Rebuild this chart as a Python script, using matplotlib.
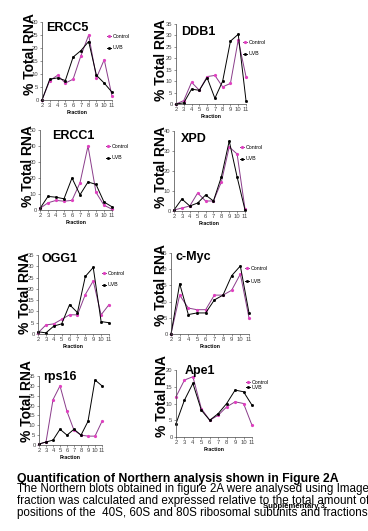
import numpy as np
import matplotlib
matplotlib.use("Agg")
import matplotlib.pyplot as plt

plt.rcParams['font.family'] = ['Liberation Sans', 'DejaVu Sans']

W, H = 368, 531

fractions = [2, 3, 4, 5, 6, 7, 8, 9, 10, 11]

ercc5_control = [0, 7.5, 9.5, 6.5, 8, 17, 25, 8.5, 15.5, 1.5]
ercc5_uvb = [0, 8, 8.5, 7.5, 16.5, 19, 22.5, 9.5, 6.5, 3]

ddb1_control = [0, 1.5, 9.5, 6, 12, 12.5, 7.5, 9, 28, 12]
ddb1_uvb = [0, 0.5, 6.5, 6, 11.5, 2.5, 10, 27.5, 30.5, 1.5]

ercc1_control = [1, 4.5, 6, 5.5, 6, 17, 40, 11, 3, 0.5]
ercc1_uvb = [1, 8.5, 8, 7, 20, 9.5, 17.5, 16, 5, 2]

xpd_control = [0.5, 1.5, 2.5, 9, 5, 5, 14.5, 32, 28.5, 1]
xpd_uvb = [0.5, 6, 2.5, 4, 8, 5, 17, 35, 17, 0.5]

ogg1_control = [0.5, 4, 4.5, 6.5, 8.5, 8.5, 17.5, 23.5, 8.5, 13]
ogg1_uvb = [1, 0.5, 3.5, 4.5, 13, 9.5, 25.5, 29.5, 5.5, 5]

cmyc_control = [0, 12, 8, 7.5, 7.5, 12, 12, 13.5, 18.5, 5]
cmyc_uvb = [0, 15.5, 6, 6.5, 6.5, 10.5, 12, 18, 21, 6.5]

rps16_control = [0.5, 1.5, 23, 30, 17, 7.5, 5, 4.5, 4.5, 12]
rps16_uvb = [0.5, 1.5, 2.5, 8, 5, 8, 5, 12, 33, 30]

ape1_control = [12, 17, 18, 8.5, 5, 6.5, 9, 10.5, 10, 3.5]
ape1_uvb = [4, 11, 16, 8, 5, 7, 10, 14, 13.5, 9.5]

# name, control, uvb, ymax, ystep, axes box px (x2, x11, y0, ytop),
# ylabel center, title pos, legend pos (None = no legend), legend spacing
panels = [
    ("ERCC5", ercc5_control, ercc5_uvb, 30, 5, (42, 112, 100, 22), (30, 54), (46, 28), (107, 42), 1.3),
    ("DDB1", ddb1_control, ddb1_uvb, 35, 5, (176, 246, 104, 24), (161, 60), (181, 32), (243, 48), 1.3),
    ("ERCC1", ercc1_control, ercc1_uvb, 50, 10, (40, 112, 210, 130), (28, 166), (52, 136), (106, 152), 1.3),
    ("XPD", xpd_control, xpd_uvb, 40, 10, (174, 245, 211, 131), (161, 167), (181, 139), (240, 153), 1.3),
    ("OGG1", ogg1_control, ogg1_uvb, 35, 5, (38, 109, 334, 255), (25, 293), (41, 259), (102, 279), 1.3),
    ("c-Myc", cmyc_control, cmyc_uvb, 25, 5, (171, 249, 334, 253), (161, 285), (175, 257), (245, 275), 1.6),
    ("rps16", rps16_control, rps16_uvb, 35, 5, (39, 102, 445, 376), (27, 401), (43, 377), None, 1.0),
    ("Ape1", ape1_control, ape1_uvb, 20, 5, (176, 252, 437, 370), (162, 396), (185, 371), (246, 385), 0.1),
]

fig = plt.figure(figsize=(W / 100, H / 100), dpi=100)

for name, ctrl, uvb, ymax, ystep, box, ylab, tpos, lpos, lsp in panels:
    x2, x11, y0, ytop = box
    ax = fig.add_axes([x2 / W, 1 - y0 / H, (x11 - x2) / W, (y0 - ytop) / H])
    ax.plot(fractions, ctrl, color='#8a3c8a', lw=0.7, marker='o', ms=1.3,
            mfc='#e040c0', mec='#e040c0', clip_on=False, label='Control')
    ax.plot(fractions, uvb, color='black', lw=0.7, marker='s', ms=1.0,
            clip_on=False, label='UVB')
    ax.set_xlim(2, 11)
    ax.set_ylim(0, ymax)
    ax.set_xticks(fractions)
    ax.set_yticks(np.arange(0, ymax + 1, ystep))
    for s in ['top', 'right']:
        ax.spines[s].set_visible(False)
    for s in ['left', 'bottom']:
        ax.spines[s].set_linewidth(0.5)
        ax.spines[s].set_color('#444444')
    ax.tick_params(labelsize=4.2, length=1.5, width=0.4, pad=1, colors='#444444')
    ax.patch.set_alpha(0)
    ax.set_xlabel('Fraction', fontsize=3.8, fontweight='bold', labelpad=1)
    fig.text(ylab[0] / W, 1 - ylab[1] / H, '% Total RNA', rotation=90,
             fontsize=10, fontweight='bold', ha='center', va='center')
    fig.text(tpos[0] / W, 1 - tpos[1] / H, name, fontsize=9,
             fontweight='bold', ha='left', va='center')
    if lpos is not None:
        ax.legend(loc='center left', bbox_to_anchor=(lpos[0] / W, 1 - lpos[1] / H),
                  bbox_transform=fig.transFigure, frameon=False, fontsize=3.8,
                  handlelength=0.8, handletextpad=0.2, labelspacing=lsp,
                  borderpad=0, borderaxespad=0)

fig.text(17 / W, 1 - 479 / H, 'Quantification of Northern analysis shown in Figure 2A',
         fontsize=8.8, fontweight='bold', ha='left', va='center')
# the paragraph runs past the right edge in the original figure
body = [
    'The Northern blots obtained in figure 2A were analysed using ImageQuant',
    'fraction was calculated and expressed relative to the total amount of',
    'positions of the  40S, 60S and 80S ribosomal subunits and fractions',
]
for i, line in enumerate(body):
    fig.text(17 / W, 1 - (489 + 12 * i) / H, line, fontsize=8.4,
             ha='left', va='center')
fig.text(263 / W, 1 - 507 / H, 'Supplementary 3.', fontsize=5.5,
         fontweight='bold', ha='left', va='center')

fig.savefig('out.png', dpi=100)
